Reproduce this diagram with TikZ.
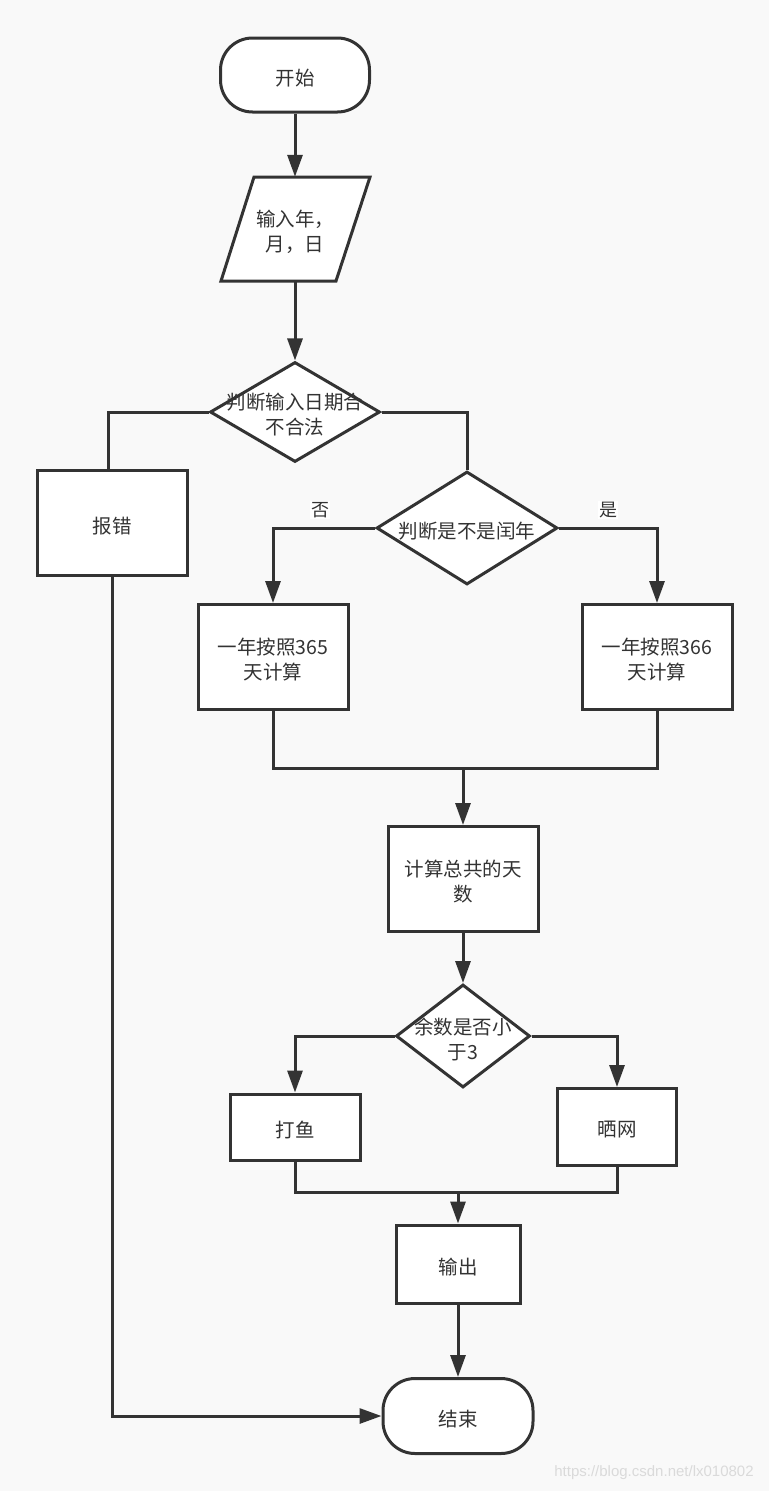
\documentclass[tikz,border=0pt]{standalone}
\usepackage{fontspec}
\newfontfamily\cjk{Noto Sans CJK SC}
\newfontfamily\wmfont{Liberation Sans}
\usetikzlibrary{shapes.geometric,arrows.meta}
\definecolor{ln}{HTML}{333333}
\definecolor{bg}{HTML}{F9F9F9}
\definecolor{wm}{HTML}{DADADA}
\tikzset{
  shp/.style={draw=ln, line width=3pt, fill=white, inner sep=0pt},
  boxn/.style={shp, rectangle},
  term/.style={shp, rectangle, rounded corners=32pt},
  dia/.style={shp, diamond},
  txt/.style={font=\cjk\fontsize{19.5}{25}\selectfont, text=ln, align=center, inner sep=0pt, yshift=-3pt},
  lab/.style={font=\cjk\fontsize{18}{20}\selectfont, text=ln, fill=white, inner sep=1pt},
  conn/.style={draw=ln, line width=3pt},
  arr/.style={conn, -{Triangle[length=22pt,width=15pt]}},
}
\begin{document}
\begin{tikzpicture}[x=1pt,y=-1pt]
\fill[bg] (0,0) rectangle (769,1491);
\useasboundingbox (0,0) rectangle (769,1491);

% start
\node[term, minimum width=149pt, minimum height=74pt] (start) at (295,75) {};
\node[txt] at (start) {开始};

% input parallelogram
\node[inner sep=0pt, minimum width=116pt, minimum height=104pt] (inp) at (295,229) {};
\filldraw[draw=ln, fill=white, line width=3pt, line join=miter] (254,177) -- (370,177) -- (336,281) -- (221,281) -- cycle;
\node[txt] at (inp) {输入年，\\月，日};

% decision 1
\node[dia, minimum width=170pt, minimum height=100pt] (d1) at (295,412) {};
\node[txt] at (d1) {判断输入日期合\\不合法};

% error
\node[boxn, minimum width=150pt, minimum height=105pt] (err) at (112,523) {};
\node[txt] at (err) {报错};

% decision 2
\node[dia, minimum width=181pt, minimum height=113pt] (d2) at (467,528) {};
\node[txt] at (d2) {判断是不是闰年};

% 365 / 366
\node[boxn, minimum width=150pt, minimum height=105pt] (b365) at (273,657) {};
\node[txt] at (b365) {一年按照365\\天计算};
\node[boxn, minimum width=150pt, minimum height=105pt] (b366) at (657,657) {};
\node[txt] at (b366) {一年按照366\\天计算};

% total
\node[boxn, minimum width=150pt, minimum height=105pt] (calc) at (463,879) {};
\node[txt] at (calc) {计算总共的天\\数};

% decision 3
\node[dia, minimum width=134pt, minimum height=103pt] (d3) at (463,1036) {};
\node[txt] at (d3) {余数是否小\\于3};

% fish / net
\node[boxn, minimum width=130pt, minimum height=66pt] (fish) at (295,1127) {};
\node[txt] at (fish) {打鱼};
\node[boxn, minimum width=119pt, minimum height=77pt] (net) at (617,1127) {};
\node[txt] at (net) {晒网};

% output
\node[boxn, minimum width=124pt, minimum height=78pt] (out) at (458,1264) {};
\node[txt] at (out) {输出};

% end
\node[term, minimum width=150pt, minimum height=75pt] (end) at (458,1416) {};
\node[txt] at (end) {结束};

% merge points
\coordinate (m1) at (463,768);
\coordinate (m2) at (458,1192);

% connectors
\draw[arr] (start) -- (inp);
\draw[arr] (inp) -- (d1);
\draw[conn] (d1.west) -| ([xshift=-4pt]err.north);
\draw[conn] (d1.east) -| (d2.north);
\draw[arr] (d2.west) -| (b365.north);
\draw[arr] (d2.east) -| (b366.north);
\node[lab] (no) at (320,510) {否};
\node[lab] (yes) at (608,510) {是};
\draw[conn] (b365.south) |- (m1) -| (b366.south);
\draw[arr] (m1) -- (calc.north);
\draw[arr] (calc.south) -- (d3.north);
\draw[arr] (d3.west) -| (fish.north);
\draw[arr] (d3.east) -| (net.north);
\draw[conn] (fish.south) |- (m2) -| (net.south);
\draw[arr] (m2) -- (out.north);
\draw[arr] (out.south) -- (end.north);
\draw[arr] (err.south) |- (end.west);

% watermark
\node[font=\wmfont\fontsize{15}{15}\selectfont, text=wm, inner sep=0pt] (wmk) at (654,1473) {https://blog.csdn.net/lx010802};
\end{tikzpicture}
\end{document}
